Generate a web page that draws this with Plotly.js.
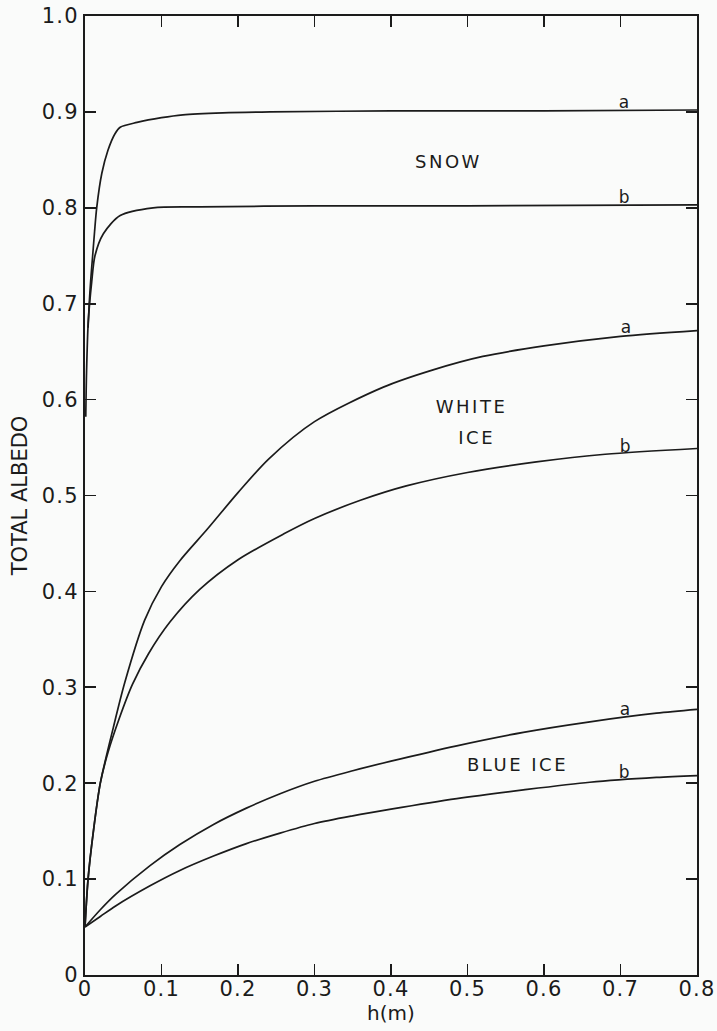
<!DOCTYPE html>
<html>
<head>
<meta charset="utf-8">
<script src="https://cdn.plot.ly/plotly-3.0.1.min.js"></script>
<style>
  html, body { margin: 0; padding: 0; background: #fafbfa; }
  #chart { width: 717px; height: 1031px; }
  #chart .annotation-text { letter-spacing: 2.5px; }
  #chart .xtick text, #chart .ytick text { letter-spacing: 1.2px; }
</style>
</head>
<body>
<div id="chart"></div>
<script>
// ---- data ----
const snowA_x = [0.004, 0.0055, 0.0075, 0.010, 0.0125, 0.0153, 0.022, 0.030, 0.039, 0.046, 0.068, 0.10, 0.128, 0.18, 0.242, 0.40, 0.60, 0.80];
const snowA_y = [0.675, 0.700, 0.725, 0.750, 0.775, 0.800, 0.836, 0.860, 0.877, 0.884, 0.889, 0.894, 0.897, 0.899, 0.900, 0.901, 0.901, 0.902];

const snowB_x = [0.001, 0.002, 0.0043, 0.0088, 0.013, 0.024, 0.046, 0.089, 0.15, 0.30, 0.50, 0.80];
const snowB_y = [0.582, 0.628, 0.682, 0.723, 0.750, 0.773, 0.792, 0.800, 0.801, 0.802, 0.802, 0.803];

const whiteA_x = [0.0, 0.004, 0.011, 0.020, 0.037, 0.052, 0.078, 0.100, 0.124, 0.160, 0.200, 0.240, 0.300, 0.390, 0.455, 0.520, 0.600, 0.700, 0.800];
const whiteA_y = [0.050, 0.100, 0.150, 0.200, 0.258, 0.305, 0.370, 0.405, 0.432, 0.465, 0.503, 0.538, 0.577, 0.613, 0.631, 0.645, 0.656, 0.666, 0.672];

const whiteB_x = [0.0, 0.004, 0.011, 0.020, 0.030, 0.045, 0.062, 0.083, 0.111, 0.150, 0.200, 0.260, 0.300, 0.360, 0.420, 0.500, 0.590, 0.680, 0.800];
const whiteB_y = [0.050, 0.100, 0.150, 0.200, 0.232, 0.268, 0.303, 0.335, 0.368, 0.402, 0.433, 0.460, 0.476, 0.495, 0.510, 0.524, 0.535, 0.543, 0.549];

const blueA_x = [0.0, 0.02, 0.04, 0.085, 0.124, 0.168, 0.211, 0.255, 0.300, 0.350, 0.400, 0.486, 0.573, 0.660, 0.747, 0.800];
const blueA_y = [0.050, 0.068, 0.084, 0.114, 0.136, 0.157, 0.174, 0.189, 0.202, 0.213, 0.223, 0.239, 0.253, 0.264, 0.273, 0.277];

const blueB_x = [0.0, 0.02, 0.04, 0.085, 0.124, 0.168, 0.211, 0.255, 0.300, 0.350, 0.400, 0.486, 0.573, 0.660, 0.747, 0.800];
const blueB_y = [0.050, 0.061, 0.072, 0.093, 0.109, 0.124, 0.137, 0.148, 0.158, 0.166, 0.173, 0.184, 0.193, 0.201, 0.206, 0.208];

const xTickVals = [0, 0.1, 0.2, 0.3, 0.4, 0.5, 0.6, 0.7, 0.8];
const xTickText = ["0", "0.1", "0.2", "0.3", "0.4", "0.5", "0.6", "0.7", "0.8"];
const yTickVals = [0, 0.1, 0.2, 0.3, 0.4, 0.5, 0.6, 0.7, 0.8, 0.9, 1.0];
const yTickText = ["0", "0.1", "0.2", "0.3", "0.4", "0.5", "0.6", "0.7", "0.8", "0.9", "1.0"];

const curveLabels = ["a", "b", "a", "b", "a", "b"];
const curveLabelX = [0.706, 0.706, 0.708, 0.708, 0.707, 0.707];
const curveLabelY = [0.910, 0.811, 0.676, 0.552, 0.277, 0.212];

const groupLabels = ["SNOW", "WHITE", "ICE", "BLUE\u00a0ICE"];
const groupLabelX = [0.475, 0.505, 0.512, 0.566];
const groupLabelY = [0.848, 0.593, 0.561, 0.220];

// ---- drawing ----
const ink = "#1b1b1b";
const font = "DejaVu Sans, Liberation Sans, sans-serif";

function curve(x, y) {
  return { x: x, y: y, type: "scatter", mode: "lines",
    line: { color: ink, width: 1.7, shape: "spline", smoothing: 0.8 },
    hoverinfo: "skip", showlegend: false };
}

const traces = [
  curve(snowA_x, snowA_y), curve(snowB_x, snowB_y),
  curve(whiteA_x, whiteA_y), curve(whiteB_x, whiteB_y),
  curve(blueA_x, blueA_y), curve(blueB_x, blueB_y)
];

const annotations = [];
curveLabels.forEach((t, i) => annotations.push({
  x: curveLabelX[i], y: curveLabelY[i], xref: "x", yref: "y", text: t,
  showarrow: false, font: { family: font, size: 17, color: ink }
}));
groupLabels.forEach((t, i) => annotations.push({
  x: groupLabelX[i], y: groupLabelY[i], xref: "x", yref: "y", text: t,
  showarrow: false, font: { family: font, size: 18, color: ink }
}));

const axisCommon = {
  showgrid: false, zeroline: false, showline: true, linecolor: ink, linewidth: 2,
  mirror: "ticks", ticks: "inside", ticklen: 11, tickwidth: 1.6, tickcolor: ink,
  tickfont: { family: font, size: 21, color: ink }, tickmode: "array"
};

const layout = {
  width: 717, height: 1031,
  margin: { l: 85, r: 20, t: 16, b: 56 },
  paper_bgcolor: "#fafbfa", plot_bgcolor: "#fafbfa",
  font: { family: font, color: ink },
  xaxis: Object.assign({}, axisCommon, {
    range: [0, 0.8], tickvals: xTickVals, ticktext: xTickText,
    ticklabelstandoff: -6,
    title: { text: "h(m)", font: { family: font, size: 20, color: ink }, standoff: 0 }
  }),
  yaxis: Object.assign({}, axisCommon, {
    range: [0, 1.0], tickvals: yTickVals, ticktext: yTickText,
    title: { text: "TOTAL ALBEDO", font: { family: font, size: 21, color: ink }, standoff: 12 }
  }),
  annotations: annotations,
  showlegend: false
};

Plotly.newPlot("chart", traces, layout, { displayModeBar: false, staticPlot: true });
</script>
</body>
</html>
